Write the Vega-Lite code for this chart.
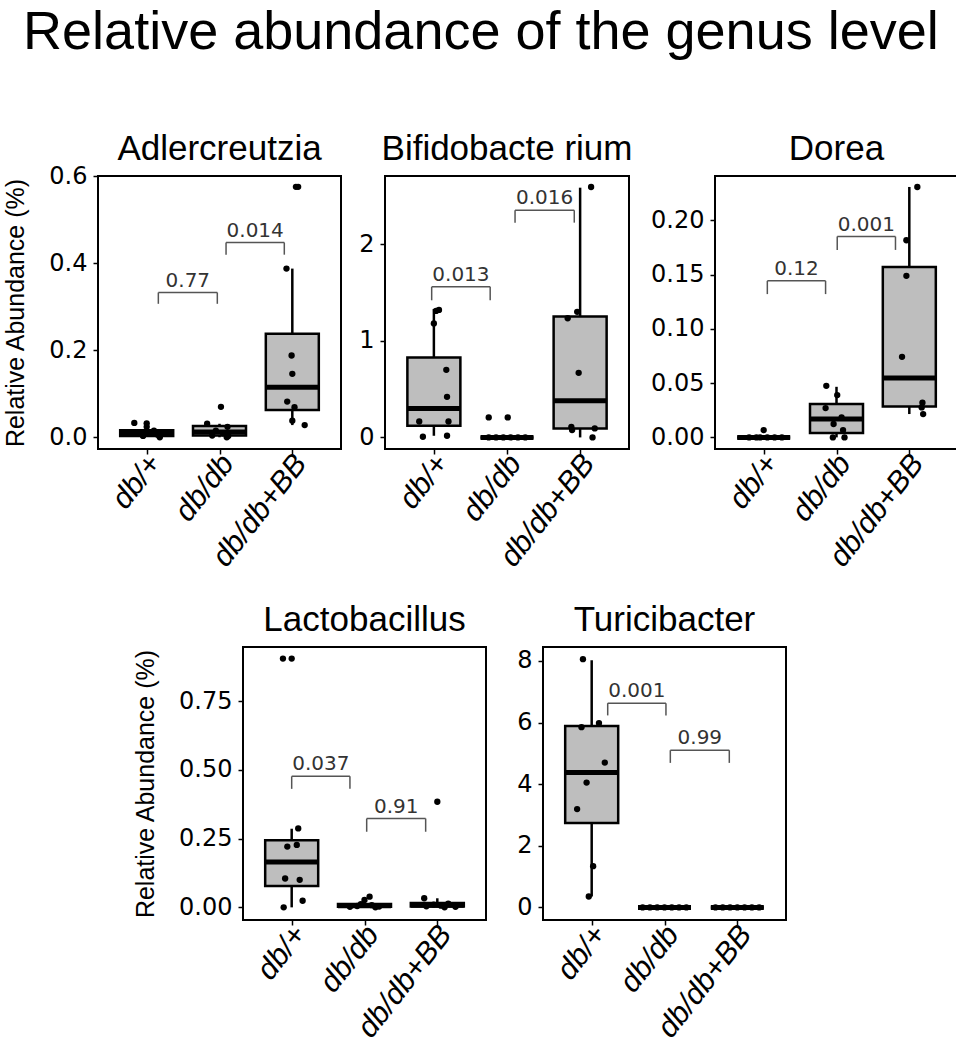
{
  "$schema": "https://vega.github.io/schema/vega-lite/v6.json",
  "padding": {"left": 2, "top": 6, "right": 0, "bottom": 5},
  "background": "white",
  "title": {"text": "Relative abundance of the genus level", "fontSize": 54, "font": "Liberation Sans", "fontWeight": "normal", "color": "black", "anchor": "middle", "frame": "bounds", "offset": 71},
  "datasets": {
    "boxes": [
      {"panel": "A", "g": 1, "lo": 0.001, "q1": 0.003, "med": 0.009, "q3": 0.016, "hi": 0.033},
      {"panel": "A", "g": 2, "lo": 0.0, "q1": 0.004, "med": 0.012, "q3": 0.026, "hi": 0.031},
      {"panel": "A", "g": 3, "lo": 0.028, "q1": 0.063, "med": 0.115, "q3": 0.238, "hi": 0.388},
      {"panel": "B", "g": 1, "lo": 0.017, "q1": 0.121, "med": 0.30, "q3": 0.828, "hi": 1.33},
      {"panel": "B", "g": 2, "lo": 0.0, "q1": 0.0, "med": 0.0, "q3": 0.0, "hi": 0.0},
      {"panel": "B", "g": 3, "lo": 0.0, "q1": 0.093, "med": 0.38, "q3": 1.252, "hi": 2.586},
      {"panel": "D", "g": 1, "lo": 0.0, "q1": 0.0, "med": 0.0, "q3": 0.0, "hi": 0.0},
      {"panel": "D", "g": 2, "lo": 0.0, "q1": 0.004, "med": 0.0169, "q3": 0.0307, "hi": 0.0466},
      {"panel": "D", "g": 3, "lo": 0.0215, "q1": 0.0285, "med": 0.0546, "q3": 0.157, "hi": 0.2307},
      {"panel": "L", "g": 1, "lo": 0.0, "q1": 0.078, "med": 0.165, "q3": 0.2437, "hi": 0.286},
      {"panel": "L", "g": 2, "lo": 0.0, "q1": 0.002, "med": 0.006, "q3": 0.012, "hi": 0.027},
      {"panel": "L", "g": 3, "lo": 0.0, "q1": 0.003, "med": 0.008, "q3": 0.016, "hi": 0.033},
      {"panel": "T", "g": 1, "lo": 0.354, "q1": 2.739, "med": 4.38, "q3": 5.886, "hi": 8.02},
      {"panel": "T", "g": 2, "lo": 0.0, "q1": 0.0, "med": 0.0, "q3": 0.0, "hi": 0.0},
      {"panel": "T", "g": 3, "lo": 0.0, "q1": 0.0, "med": 0.0, "q3": 0.0, "hi": 0.0}
    ],
    "pts": [
      {"panel": "A", "x": 0.83, "v": 0.033}, {"panel": "A", "x": 1.0, "v": 0.032}, {"panel": "A", "x": 1.0, "v": 0.024}, {"panel": "A", "x": 1.1, "v": 0.015},
      {"panel": "A", "x": 0.88, "v": 0.010}, {"panel": "A", "x": 1.15, "v": 0.006}, {"panel": "A", "x": 0.95, "v": 0.003}, {"panel": "A", "x": 1.18, "v": 0.0},
      {"panel": "A", "x": 2.02, "v": 0.070}, {"panel": "A", "x": 1.83, "v": 0.031}, {"panel": "A", "x": 2.11, "v": 0.024}, {"panel": "A", "x": 2.1, "v": 0.0},
      {"panel": "A", "x": 1.95, "v": 0.015}, {"panel": "A", "x": 2.05, "v": 0.009}, {"panel": "A", "x": 1.9, "v": 0.004}, {"panel": "A", "x": 2.12, "v": 0.003},
      {"panel": "A", "x": 3.05, "v": 0.576}, {"panel": "A", "x": 3.08, "v": 0.576}, {"panel": "A", "x": 2.92, "v": 0.388}, {"panel": "A", "x": 2.99, "v": 0.188},
      {"panel": "A", "x": 3.0, "v": 0.146}, {"panel": "A", "x": 2.93, "v": 0.082}, {"panel": "A", "x": 3.03, "v": 0.069}, {"panel": "A", "x": 3.0, "v": 0.038},
      {"panel": "A", "x": 3.17, "v": 0.028},
      {"panel": "B", "x": 1.03, "v": 1.31}, {"panel": "B", "x": 1.07, "v": 1.32}, {"panel": "B", "x": 1.0, "v": 1.18}, {"panel": "B", "x": 1.17, "v": 0.70},
      {"panel": "B", "x": 1.18, "v": 0.42}, {"panel": "B", "x": 0.8, "v": 0.165}, {"panel": "B", "x": 1.2, "v": 0.165}, {"panel": "B", "x": 0.85, "v": 0.007},
      {"panel": "B", "x": 1.18, "v": 0.017},
      {"panel": "B", "x": 1.75, "v": 0.207}, {"panel": "B", "x": 2.01, "v": 0.207}, {"panel": "B", "x": 1.75, "v": 0.0}, {"panel": "B", "x": 1.85, "v": 0.0},
      {"panel": "B", "x": 1.95, "v": 0.0}, {"panel": "B", "x": 2.05, "v": 0.0}, {"panel": "B", "x": 2.15, "v": 0.0}, {"panel": "B", "x": 2.25, "v": 0.0},
      {"panel": "B", "x": 3.15, "v": 2.593}, {"panel": "B", "x": 2.96, "v": 1.30}, {"panel": "B", "x": 2.83, "v": 1.234}, {"panel": "B", "x": 2.98, "v": 0.669},
      {"panel": "B", "x": 2.88, "v": 0.11}, {"panel": "B", "x": 2.89, "v": 0.076}, {"panel": "B", "x": 3.2, "v": 0.093}, {"panel": "B", "x": 3.17, "v": 0.0},
      {"panel": "D", "x": 1.0, "v": 0.0067}, {"panel": "D", "x": 0.8, "v": 0.0}, {"panel": "D", "x": 0.9, "v": 0.0}, {"panel": "D", "x": 1.05, "v": 0.0},
      {"panel": "D", "x": 1.15, "v": 0.0}, {"panel": "D", "x": 1.25, "v": 0.0}, {"panel": "D", "x": 0.95, "v": 0.0},
      {"panel": "D", "x": 1.86, "v": 0.0475}, {"panel": "D", "x": 2.01, "v": 0.039}, {"panel": "D", "x": 1.85, "v": 0.027}, {"panel": "D", "x": 2.07, "v": 0.0184},
      {"panel": "D", "x": 1.96, "v": 0.0123}, {"panel": "D", "x": 2.09, "v": 0.0067}, {"panel": "D", "x": 1.95, "v": 0.0}, {"panel": "D", "x": 2.11, "v": 0.0},
      {"panel": "D", "x": 3.11, "v": 0.2307}, {"panel": "D", "x": 2.96, "v": 0.1816}, {"panel": "D", "x": 2.96, "v": 0.1488}, {"panel": "D", "x": 2.9, "v": 0.0742},
      {"panel": "D", "x": 3.18, "v": 0.032}, {"panel": "D", "x": 3.17, "v": 0.0276}, {"panel": "D", "x": 3.19, "v": 0.0215},
      {"panel": "L", "x": 0.88, "v": 0.905}, {"panel": "L", "x": 1.0, "v": 0.905}, {"panel": "L", "x": 1.09, "v": 0.287}, {"panel": "L", "x": 0.94, "v": 0.221},
      {"panel": "L", "x": 1.07, "v": 0.227}, {"panel": "L", "x": 0.91, "v": 0.105}, {"panel": "L", "x": 1.11, "v": 0.10}, {"panel": "L", "x": 1.15, "v": 0.024},
      {"panel": "L", "x": 0.89, "v": 0.0},
      {"panel": "L", "x": 2.07, "v": 0.039}, {"panel": "L", "x": 2.0, "v": 0.027}, {"panel": "L", "x": 1.8, "v": 0.002}, {"panel": "L", "x": 1.9, "v": 0.005},
      {"panel": "L", "x": 2.1, "v": 0.008}, {"panel": "L", "x": 2.2, "v": 0.003}, {"panel": "L", "x": 1.95, "v": 0.012}, {"panel": "L", "x": 2.15, "v": 0.0},
      {"panel": "L", "x": 2.82, "v": 0.033}, {"panel": "L", "x": 3.0, "v": 0.384}, {"panel": "L", "x": 2.85, "v": 0.004}, {"panel": "L", "x": 2.95, "v": 0.01},
      {"panel": "L", "x": 3.05, "v": 0.006}, {"panel": "L", "x": 3.15, "v": 0.013}, {"panel": "L", "x": 3.25, "v": 0.002}, {"panel": "L", "x": 3.1, "v": 0.0},
      {"panel": "T", "x": 0.88, "v": 8.056}, {"panel": "T", "x": 0.86, "v": 5.85}, {"panel": "T", "x": 1.1, "v": 5.98}, {"panel": "T", "x": 1.18, "v": 4.70},
      {"panel": "T", "x": 0.93, "v": 4.05}, {"panel": "T", "x": 0.8, "v": 3.19}, {"panel": "T", "x": 1.02, "v": 1.34}, {"panel": "T", "x": 0.96, "v": 0.354},
      {"panel": "T", "x": 1.7, "v": 0.0}, {"panel": "T", "x": 1.8, "v": 0.0}, {"panel": "T", "x": 1.9, "v": 0.0}, {"panel": "T", "x": 2.0, "v": 0.0},
      {"panel": "T", "x": 2.1, "v": 0.0}, {"panel": "T", "x": 2.2, "v": 0.0}, {"panel": "T", "x": 2.3, "v": 0.0},
      {"panel": "T", "x": 2.7, "v": 0.0}, {"panel": "T", "x": 2.8, "v": 0.0}, {"panel": "T", "x": 2.9, "v": 0.0}, {"panel": "T", "x": 3.0, "v": 0.0},
      {"panel": "T", "x": 3.1, "v": 0.0}, {"panel": "T", "x": 3.2, "v": 0.0}, {"panel": "T", "x": 3.3, "v": 0.0}
    ],
    "br": [
      {"panel": "A", "xa": 1.16, "xb": 1.97, "xm": 1.565, "y": 0.333, "tip": 0.307, "p": "0.77"},
      {"panel": "A", "xa": 2.09, "xb": 2.89, "xm": 2.49, "y": 0.448, "tip": 0.42, "p": "0.014"},
      {"panel": "B", "xa": 0.97, "xb": 1.77, "xm": 1.37, "y": 1.559, "tip": 1.42, "p": "0.013"},
      {"panel": "B", "xa": 2.11, "xb": 2.92, "xm": 2.515, "y": 2.352, "tip": 2.224, "p": "0.016"},
      {"panel": "D", "xa": 1.05, "xb": 1.85, "xm": 1.45, "y": 0.1442, "tip": 0.132, "p": "0.12"},
      {"panel": "D", "xa": 2.01, "xb": 2.81, "xm": 2.41, "y": 0.185, "tip": 0.1727, "p": "0.001"},
      {"panel": "L", "xa": 1.0, "xb": 1.8, "xm": 1.4, "y": 0.4765, "tip": 0.431, "p": "0.037"},
      {"panel": "L", "xa": 2.03, "xb": 2.84, "xm": 2.435, "y": 0.323, "tip": 0.275, "p": "0.91"},
      {"panel": "T", "xa": 1.22, "xb": 2.02, "xm": 1.62, "y": 6.627, "tip": 6.23, "p": "0.001"},
      {"panel": "T", "xa": 2.08, "xb": 2.89, "xm": 2.485, "y": 5.10, "tip": 4.69, "p": "0.99"}
    ]
  },
  "vconcat": [
    {
      "hconcat": [
        {
          "width": 243, "height": 273,
          "title": {"text": "Adlercreutzia", "offset": -3},
          "layer": [
            {"data": {"name": "boxes"}, "transform": [{"filter": "datum.panel === 'A'"}], "mark": {"type": "rule", "strokeWidth": 2.5, "color": "black"},
             "encoding": {"x": {"field": "g", "type": "quantitative", "title": null, "scale": {"domain": [0.4, 3.6], "nice": false, "zero": false}, "axis": {"values": [1, 2, 3], "labelExpr": "datum.value == 1 ? 'db/+' : datum.value == 2 ? 'db/db' : 'db/db+BB'"}},
                          "y": {"field": "lo", "type": "quantitative", "title": "Relative Abundance (%)", "scale": {"domain": [-0.027, 0.601], "nice": false, "zero": false}, "axis": {"values": [0, 0.2, 0.4, 0.6], "format": ".1f"}},
                          "y2": {"field": "hi"}}},
            {"data": {"name": "boxes"}, "transform": [{"filter": "datum.panel === 'A'"}], "mark": {"type": "bar", "orient": "vertical", "width": 53, "fill": "#bebebe", "stroke": "black", "strokeWidth": 2.5},
             "encoding": {"x": {"field": "g", "type": "quantitative", "title": null}, "y": {"field": "q1", "type": "quantitative", "title": "Relative Abundance (%)"}, "y2": {"field": "q3"}}},
            {"data": {"name": "boxes"}, "transform": [{"filter": "datum.panel === 'A'"}], "mark": {"type": "tick", "orient": "horizontal", "size": 53, "thickness": 5, "color": "black", "opacity": 1},
             "encoding": {"x": {"field": "g", "type": "quantitative", "title": null}, "y": {"field": "med", "type": "quantitative", "title": "Relative Abundance (%)"}}},
            {"data": {"name": "pts"}, "transform": [{"filter": "datum.panel === 'A'"}], "mark": {"type": "point", "filled": true, "size": 40, "color": "black", "opacity": 1},
             "encoding": {"x": {"field": "x", "type": "quantitative", "title": null}, "y": {"field": "v", "type": "quantitative", "title": "Relative Abundance (%)"}}},
            {"data": {"name": "br"}, "transform": [{"filter": "datum.panel === 'A'"}], "mark": {"type": "rule", "color": "#555555", "strokeWidth": 1.5},
             "encoding": {"x": {"field": "xa", "type": "quantitative", "title": null}, "x2": {"field": "xb"}, "y": {"field": "y", "type": "quantitative", "title": "Relative Abundance (%)"}}},
            {"data": {"name": "br"}, "transform": [{"filter": "datum.panel === 'A'"}], "mark": {"type": "rule", "color": "#555555", "strokeWidth": 1.5},
             "encoding": {"x": {"field": "xa", "type": "quantitative", "title": null}, "y": {"field": "y", "type": "quantitative", "title": "Relative Abundance (%)"}, "y2": {"field": "tip"}}},
            {"data": {"name": "br"}, "transform": [{"filter": "datum.panel === 'A'"}], "mark": {"type": "rule", "color": "#555555", "strokeWidth": 1.5},
             "encoding": {"x": {"field": "xb", "type": "quantitative", "title": null}, "y": {"field": "y", "type": "quantitative", "title": "Relative Abundance (%)"}, "y2": {"field": "tip"}}},
            {"data": {"name": "br"}, "transform": [{"filter": "datum.panel === 'A'"}], "mark": {"type": "text", "baseline": "bottom", "dy": -2, "fontSize": 20, "font": "DejaVu Sans", "color": "#333333"},
             "encoding": {"x": {"field": "xm", "type": "quantitative", "title": null}, "y": {"field": "y", "type": "quantitative", "title": "Relative Abundance (%)"}, "text": {"field": "p"}}}
          ]
        },
        {
          "width": 244, "height": 273,
          "title": "Bifidobacte rium",
          "layer": [
            {"data": {"name": "boxes"}, "transform": [{"filter": "datum.panel === 'B'"}], "mark": {"type": "rule", "strokeWidth": 2.5, "color": "black"},
             "encoding": {"x": {"field": "g", "type": "quantitative", "title": null, "scale": {"domain": [0.4, 3.6], "nice": false, "zero": false}, "axis": {"values": [1, 2, 3], "labelExpr": "datum.value == 1 ? 'db/+' : datum.value == 2 ? 'db/db' : 'db/db+BB'"}},
                          "y": {"field": "lo", "type": "quantitative", "title": null, "scale": {"domain": [-0.12, 2.707], "nice": false, "zero": false}, "axis": {"values": [0, 1, 2], "format": "d"}},
                          "y2": {"field": "hi"}}},
            {"data": {"name": "boxes"}, "transform": [{"filter": "datum.panel === 'B'"}], "mark": {"type": "bar", "orient": "vertical", "width": 53, "fill": "#bebebe", "stroke": "black", "strokeWidth": 2.5},
             "encoding": {"x": {"field": "g", "type": "quantitative", "title": null}, "y": {"field": "q1", "type": "quantitative", "title": null}, "y2": {"field": "q3"}}},
            {"data": {"name": "boxes"}, "transform": [{"filter": "datum.panel === 'B'"}], "mark": {"type": "tick", "orient": "horizontal", "size": 53, "thickness": 5, "color": "black", "opacity": 1},
             "encoding": {"x": {"field": "g", "type": "quantitative", "title": null}, "y": {"field": "med", "type": "quantitative", "title": null}}},
            {"data": {"name": "pts"}, "transform": [{"filter": "datum.panel === 'B'"}], "mark": {"type": "point", "filled": true, "size": 40, "color": "black", "opacity": 1},
             "encoding": {"x": {"field": "x", "type": "quantitative", "title": null}, "y": {"field": "v", "type": "quantitative", "title": null}}},
            {"data": {"name": "br"}, "transform": [{"filter": "datum.panel === 'B'"}], "mark": {"type": "rule", "color": "#555555", "strokeWidth": 1.5},
             "encoding": {"x": {"field": "xa", "type": "quantitative", "title": null}, "x2": {"field": "xb"}, "y": {"field": "y", "type": "quantitative", "title": null}}},
            {"data": {"name": "br"}, "transform": [{"filter": "datum.panel === 'B'"}], "mark": {"type": "rule", "color": "#555555", "strokeWidth": 1.5},
             "encoding": {"x": {"field": "xa", "type": "quantitative", "title": null}, "y": {"field": "y", "type": "quantitative", "title": null}, "y2": {"field": "tip"}}},
            {"data": {"name": "br"}, "transform": [{"filter": "datum.panel === 'B'"}], "mark": {"type": "rule", "color": "#555555", "strokeWidth": 1.5},
             "encoding": {"x": {"field": "xb", "type": "quantitative", "title": null}, "y": {"field": "y", "type": "quantitative", "title": null}, "y2": {"field": "tip"}}},
            {"data": {"name": "br"}, "transform": [{"filter": "datum.panel === 'B'"}], "mark": {"type": "text", "baseline": "bottom", "dy": -2, "fontSize": 20, "font": "DejaVu Sans", "color": "#333333"},
             "encoding": {"x": {"field": "xm", "type": "quantitative", "title": null}, "y": {"field": "y", "type": "quantitative", "title": null}, "text": {"field": "p"}}}
          ]
        },
        {
          "width": 243, "height": 273,
          "title": "Dorea",
          "layer": [
            {"data": {"name": "boxes"}, "transform": [{"filter": "datum.panel === 'D'"}], "mark": {"type": "rule", "strokeWidth": 2.5, "color": "black"},
             "encoding": {"x": {"field": "g", "type": "quantitative", "title": null, "scale": {"domain": [0.4, 3.6], "nice": false, "zero": false}, "axis": {"values": [1, 2, 3], "labelExpr": "datum.value == 1 ? 'db/+' : datum.value == 2 ? 'db/db' : 'db/db+BB'"}},
                          "y": {"field": "lo", "type": "quantitative", "title": null, "scale": {"domain": [-0.0107, 0.2408], "nice": false, "zero": false}, "axis": {"values": [0, 0.05, 0.1, 0.15, 0.2], "format": ".2f"}},
                          "y2": {"field": "hi"}}},
            {"data": {"name": "boxes"}, "transform": [{"filter": "datum.panel === 'D'"}], "mark": {"type": "bar", "orient": "vertical", "width": 53, "fill": "#bebebe", "stroke": "black", "strokeWidth": 2.5},
             "encoding": {"x": {"field": "g", "type": "quantitative", "title": null}, "y": {"field": "q1", "type": "quantitative", "title": null}, "y2": {"field": "q3"}}},
            {"data": {"name": "boxes"}, "transform": [{"filter": "datum.panel === 'D'"}], "mark": {"type": "tick", "orient": "horizontal", "size": 53, "thickness": 5, "color": "black", "opacity": 1},
             "encoding": {"x": {"field": "g", "type": "quantitative", "title": null}, "y": {"field": "med", "type": "quantitative", "title": null}}},
            {"data": {"name": "pts"}, "transform": [{"filter": "datum.panel === 'D'"}], "mark": {"type": "point", "filled": true, "size": 40, "color": "black", "opacity": 1},
             "encoding": {"x": {"field": "x", "type": "quantitative", "title": null}, "y": {"field": "v", "type": "quantitative", "title": null}}},
            {"data": {"name": "br"}, "transform": [{"filter": "datum.panel === 'D'"}], "mark": {"type": "rule", "color": "#555555", "strokeWidth": 1.5},
             "encoding": {"x": {"field": "xa", "type": "quantitative", "title": null}, "x2": {"field": "xb"}, "y": {"field": "y", "type": "quantitative", "title": null}}},
            {"data": {"name": "br"}, "transform": [{"filter": "datum.panel === 'D'"}], "mark": {"type": "rule", "color": "#555555", "strokeWidth": 1.5},
             "encoding": {"x": {"field": "xa", "type": "quantitative", "title": null}, "y": {"field": "y", "type": "quantitative", "title": null}, "y2": {"field": "tip"}}},
            {"data": {"name": "br"}, "transform": [{"filter": "datum.panel === 'D'"}], "mark": {"type": "rule", "color": "#555555", "strokeWidth": 1.5},
             "encoding": {"x": {"field": "xb", "type": "quantitative", "title": null}, "y": {"field": "y", "type": "quantitative", "title": null}, "y2": {"field": "tip"}}},
            {"data": {"name": "br"}, "transform": [{"filter": "datum.panel === 'D'"}], "mark": {"type": "text", "baseline": "bottom", "dy": -2, "fontSize": 20, "font": "DejaVu Sans", "color": "#333333"},
             "encoding": {"x": {"field": "xm", "type": "quantitative", "title": null}, "y": {"field": "y", "type": "quantitative", "title": null}, "text": {"field": "p"}}}
          ]
        }
      ],
      "spacing": 15
    },
    {
      "hconcat": [
        {
          "width": 6, "height": 10,
          "view": {"stroke": null},
          "data": {"values": []},
          "mark": {"type": "point", "opacity": 0},
          "encoding": {
            "x": {"field": "a", "type": "quantitative", "axis": null},
            "y": {"field": "b", "type": "quantitative", "axis": null}
          }
        },
        {
          "width": 243, "height": 273,
          "title": "Lactobacillus",
          "layer": [
            {"data": {"name": "boxes"}, "transform": [{"filter": "datum.panel === 'L'"}], "mark": {"type": "rule", "strokeWidth": 2.5, "color": "black"},
             "encoding": {"x": {"field": "g", "type": "quantitative", "title": null, "scale": {"domain": [0.4, 3.6], "nice": false, "zero": false}, "axis": {"values": [1, 2, 3], "labelExpr": "datum.value == 1 ? 'db/+' : datum.value == 2 ? 'db/db' : 'db/db+BB'"}},
                          "y": {"field": "lo", "type": "quantitative", "title": "Relative Abundance (%)", "scale": {"domain": [-0.046, 0.947], "nice": false, "zero": false}, "axis": {"values": [0, 0.25, 0.5, 0.75], "format": ".2f"}},
                          "y2": {"field": "hi"}}},
            {"data": {"name": "boxes"}, "transform": [{"filter": "datum.panel === 'L'"}], "mark": {"type": "bar", "orient": "vertical", "width": 53, "fill": "#bebebe", "stroke": "black", "strokeWidth": 2.5},
             "encoding": {"x": {"field": "g", "type": "quantitative", "title": null}, "y": {"field": "q1", "type": "quantitative", "title": "Relative Abundance (%)"}, "y2": {"field": "q3"}}},
            {"data": {"name": "boxes"}, "transform": [{"filter": "datum.panel === 'L'"}], "mark": {"type": "tick", "orient": "horizontal", "size": 53, "thickness": 5, "color": "black", "opacity": 1},
             "encoding": {"x": {"field": "g", "type": "quantitative", "title": null}, "y": {"field": "med", "type": "quantitative", "title": "Relative Abundance (%)"}}},
            {"data": {"name": "pts"}, "transform": [{"filter": "datum.panel === 'L'"}], "mark": {"type": "point", "filled": true, "size": 40, "color": "black", "opacity": 1},
             "encoding": {"x": {"field": "x", "type": "quantitative", "title": null}, "y": {"field": "v", "type": "quantitative", "title": "Relative Abundance (%)"}}},
            {"data": {"name": "br"}, "transform": [{"filter": "datum.panel === 'L'"}], "mark": {"type": "rule", "color": "#555555", "strokeWidth": 1.5},
             "encoding": {"x": {"field": "xa", "type": "quantitative", "title": null}, "x2": {"field": "xb"}, "y": {"field": "y", "type": "quantitative", "title": "Relative Abundance (%)"}}},
            {"data": {"name": "br"}, "transform": [{"filter": "datum.panel === 'L'"}], "mark": {"type": "rule", "color": "#555555", "strokeWidth": 1.5},
             "encoding": {"x": {"field": "xa", "type": "quantitative", "title": null}, "y": {"field": "y", "type": "quantitative", "title": "Relative Abundance (%)"}, "y2": {"field": "tip"}}},
            {"data": {"name": "br"}, "transform": [{"filter": "datum.panel === 'L'"}], "mark": {"type": "rule", "color": "#555555", "strokeWidth": 1.5},
             "encoding": {"x": {"field": "xb", "type": "quantitative", "title": null}, "y": {"field": "y", "type": "quantitative", "title": "Relative Abundance (%)"}, "y2": {"field": "tip"}}},
            {"data": {"name": "br"}, "transform": [{"filter": "datum.panel === 'L'"}], "mark": {"type": "text", "baseline": "bottom", "dy": -2, "fontSize": 20, "font": "DejaVu Sans", "color": "#333333"},
             "encoding": {"x": {"field": "xm", "type": "quantitative", "title": null}, "y": {"field": "y", "type": "quantitative", "title": "Relative Abundance (%)"}, "text": {"field": "p"}}}
          ]
        },
        {
          "width": 243, "height": 273,
          "title": "Turicibacter",
          "layer": [
            {"data": {"name": "boxes"}, "transform": [{"filter": "datum.panel === 'T'"}], "mark": {"type": "rule", "strokeWidth": 2.5, "color": "black"},
             "encoding": {"x": {"field": "g", "type": "quantitative", "title": null, "scale": {"domain": [0.4, 3.6], "nice": false, "zero": false}, "axis": {"values": [1, 2, 3], "labelExpr": "datum.value == 1 ? 'db/+' : datum.value == 2 ? 'db/db' : 'db/db+BB'"}},
                          "y": {"field": "lo", "type": "quantitative", "title": null, "scale": {"domain": [-0.408, 8.45], "nice": false, "zero": false}, "axis": {"values": [0, 2, 4, 6, 8], "format": "d"}},
                          "y2": {"field": "hi"}}},
            {"data": {"name": "boxes"}, "transform": [{"filter": "datum.panel === 'T'"}], "mark": {"type": "bar", "orient": "vertical", "width": 53, "fill": "#bebebe", "stroke": "black", "strokeWidth": 2.5},
             "encoding": {"x": {"field": "g", "type": "quantitative", "title": null}, "y": {"field": "q1", "type": "quantitative", "title": null}, "y2": {"field": "q3"}}},
            {"data": {"name": "boxes"}, "transform": [{"filter": "datum.panel === 'T'"}], "mark": {"type": "tick", "orient": "horizontal", "size": 53, "thickness": 5, "color": "black", "opacity": 1},
             "encoding": {"x": {"field": "g", "type": "quantitative", "title": null}, "y": {"field": "med", "type": "quantitative", "title": null}}},
            {"data": {"name": "pts"}, "transform": [{"filter": "datum.panel === 'T'"}], "mark": {"type": "point", "filled": true, "size": 40, "color": "black", "opacity": 1},
             "encoding": {"x": {"field": "x", "type": "quantitative", "title": null}, "y": {"field": "v", "type": "quantitative", "title": null}}},
            {"data": {"name": "br"}, "transform": [{"filter": "datum.panel === 'T'"}], "mark": {"type": "rule", "color": "#555555", "strokeWidth": 1.5},
             "encoding": {"x": {"field": "xa", "type": "quantitative", "title": null}, "x2": {"field": "xb"}, "y": {"field": "y", "type": "quantitative", "title": null}}},
            {"data": {"name": "br"}, "transform": [{"filter": "datum.panel === 'T'"}], "mark": {"type": "rule", "color": "#555555", "strokeWidth": 1.5},
             "encoding": {"x": {"field": "xa", "type": "quantitative", "title": null}, "y": {"field": "y", "type": "quantitative", "title": null}, "y2": {"field": "tip"}}},
            {"data": {"name": "br"}, "transform": [{"filter": "datum.panel === 'T'"}], "mark": {"type": "rule", "color": "#555555", "strokeWidth": 1.5},
             "encoding": {"x": {"field": "xb", "type": "quantitative", "title": null}, "y": {"field": "y", "type": "quantitative", "title": null}, "y2": {"field": "tip"}}},
            {"data": {"name": "br"}, "transform": [{"filter": "datum.panel === 'T'"}], "mark": {"type": "text", "baseline": "bottom", "dy": -2, "fontSize": 20, "font": "DejaVu Sans", "color": "#333333"},
             "encoding": {"x": {"field": "xm", "type": "quantitative", "title": null}, "y": {"field": "y", "type": "quantitative", "title": null}, "text": {"field": "p"}}}
          ]
        }
      ],
      "spacing": 28
    }
  ],
  "spacing": 29,
  "center": false,
  "config": {
    "font": "Liberation Sans",
    "view": {"stroke": "black", "strokeWidth": 2},
    "title": {"font": "Liberation Sans", "fontSize": 35, "fontWeight": "normal", "color": "black", "offset": 9, "frame": "group"},
    "axis": {"domain": false, "grid": false, "ticks": true, "tickColor": "black", "tickSize": 5, "tickWidth": 1.5, "labelColor": "black", "labelFont": "DejaVu Sans", "labelFontSize": 24, "labelPadding": 6, "labelOverlap": false, "labelFlush": false, "titleFont": "Liberation Sans", "titleFontSize": 25, "titleFontWeight": "normal", "titleColor": "black", "titlePadding": 20},
    "axisX": {"labelAngle": -52, "labelAlign": "right", "labelBaseline": "middle", "labelFontStyle": "italic", "labelOffset": 8, "labelFont": "Liberation Sans", "labelFontSize": 30, "labelPadding": 4}
  }
}
